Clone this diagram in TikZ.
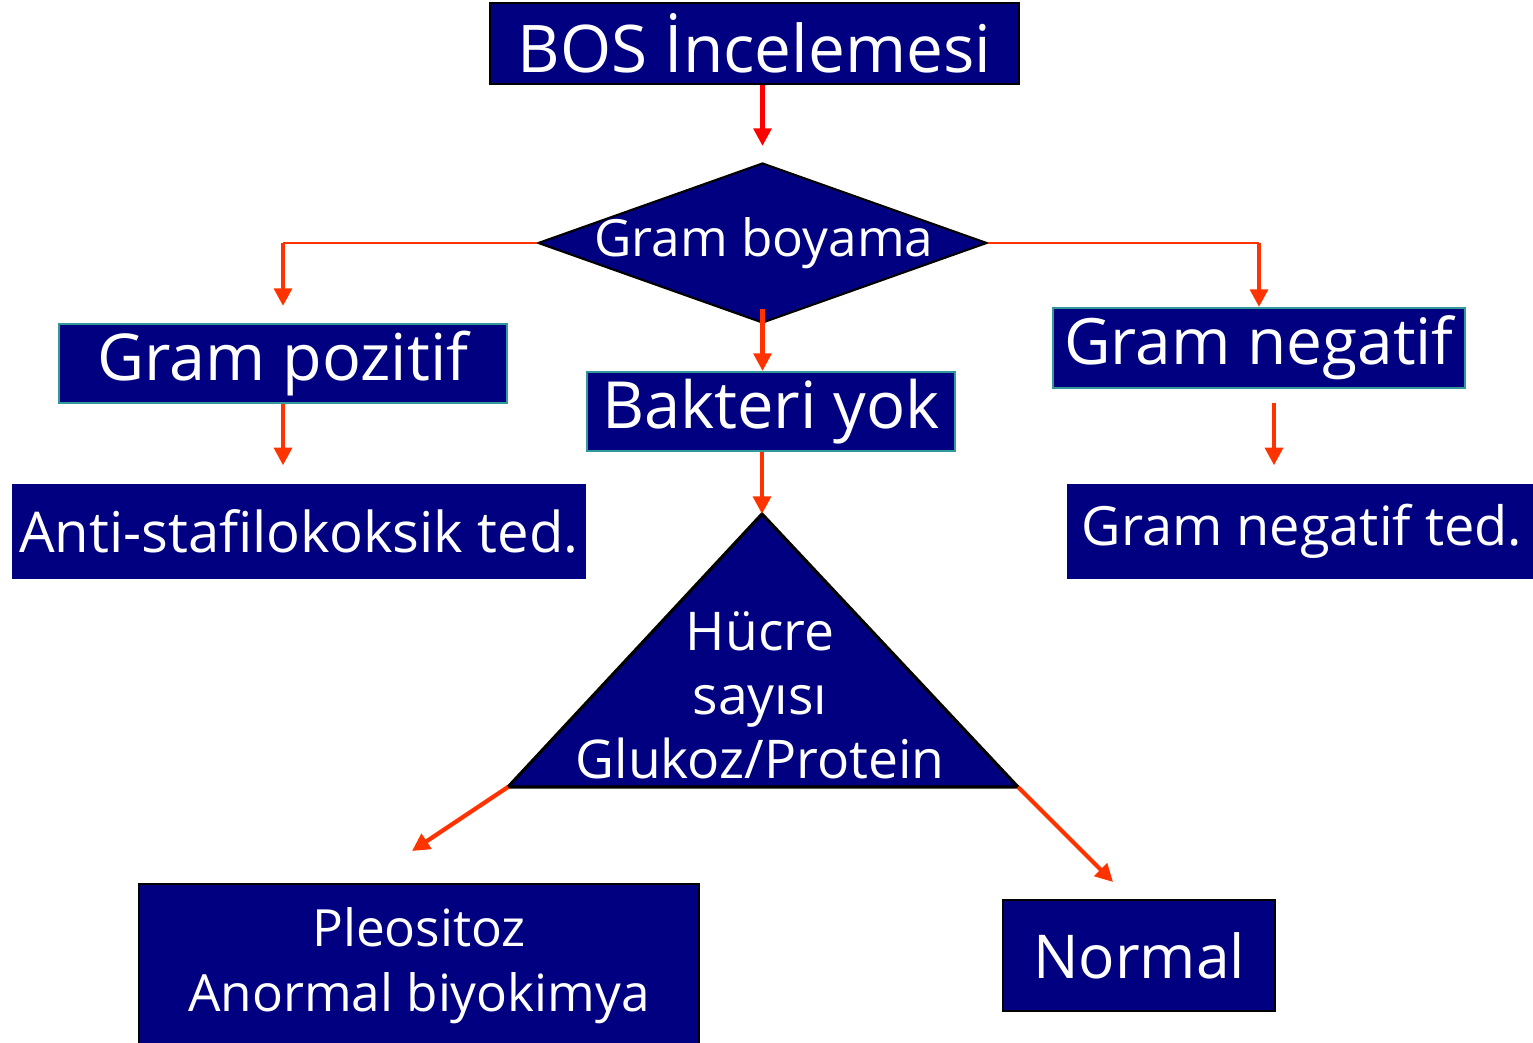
\documentclass[tikz,border=0pt]{standalone}
\usepackage{fontspec}
\setmainfont{Open Sans}
\usetikzlibrary{arrows.meta,shapes.geometric,calc}
\definecolor{navy}{RGB}{0,0,128}
\definecolor{flowred}{RGB}{255,51,0}
\definecolor{edgeteal}{RGB}{51,153,153}
\begin{document}
\begin{tikzpicture}[
    box/.style={rectangle,fill=navy,text=white,inner sep=0pt,align=center},
    flow/.style={draw=flowred,line width=1.2pt,-{Triangle[width=5pt,length=5pt]}},
    branch/.style={draw=flowred,line width=0.6pt}]
    \useasboundingbox (0,0) rectangle (15.33,-10.43);

    \begin{scope}[every node/.style={box}]
        \node (bos) [draw=black,line width=0.8pt,minimum width=5.29cm,minimum height=0.81cm,font=\fontsize{18.7}{23}\selectfont] at (7.545,-0.435) {BOS İncelemesi};
        \node (gram) [diamond,draw=black,line width=0.6pt,minimum width=4.49cm,minimum height=1.6cm] at (7.625,-2.43) {};
        \node [fill=none,font=\fontsize{14.6}{18}\selectfont] at (7.64,-2.43) {Gram boyama};
        \node (gpos) [draw=edgeteal,line width=0.6pt,minimum width=4.48cm,minimum height=0.79cm,font=\fontsize{18.4}{22}\selectfont] at (2.83,-3.635) {Gram pozitif};
        \node (bakteri) [draw=edgeteal,line width=0.6pt,minimum width=3.68cm,minimum height=0.79cm,font=\fontsize{18.5}{22}\selectfont] at (7.71,-4.115) {Bakteri yok};
        \node (gneg) [draw=edgeteal,line width=0.6pt,minimum width=4.12cm,minimum height=0.8cm,font=\fontsize{18.2}{22}\selectfont] at (12.59,-3.48) {Gram negatif};
        \node (anti) [minimum width=5.74cm,minimum height=0.95cm,font=\fontsize{16}{19}\selectfont] at (2.99,-5.315) {Anti-stafilokoksik ted.};
        \node (gnted) [minimum width=4.66cm,minimum height=0.95cm,font=\fontsize{15.4}{19}\selectfont] at (13.0,-5.315) {\hspace{0.04cm}Gram negatif ted.};
        \node (pleo) [draw=black,line width=0.8pt,minimum width=5.6cm,minimum height=1.64cm,font=\fontsize{14.6}{18.4}\selectfont] at (4.19,-9.66) {Pleositoz\\Anormal biyokimya};
        \node (normal) [draw=black,line width=0.8pt,minimum width=2.72cm,minimum height=1.11cm,font=\fontsize{17.2}{21}\selectfont] at (11.39,-9.555) {Normal};
    \end{scope}

    % hucre sayisi ucgeni
    \coordinate (apex) at (7.62,-5.14);
    \coordinate (tl) at (5.08,-7.87);
    \coordinate (tr) at (10.18,-7.87);
    \draw [fill=navy,line width=0.9pt] (apex) -- (tr) -- (tl) -- cycle;
    \node (hucre) [text=white,align=center,font=\fontsize{15.2}{18.2}\selectfont] at (7.6,-6.95) {Hücre\\sayısı\\Glukoz/Protein};

    \coordinate (lturn) at (2.83,-2.43);
    \coordinate (rturn) at (12.59,-2.43);
    \coordinate (gnA) at (12.74,-4.03);
    \coordinate (pleoIn) at (4.12,-8.51);
    \coordinate (normIn) at (11.13,-8.82);

    \begin{scope}
        \path (bos.south -| gram.north) edge [flow,draw=red,shorten >=0.16cm] (gram.north);
        \path (gram.west) edge [branch] (lturn);
        \path (gram.east) edge [branch] (rturn);
        \path (lturn) edge [flow,shorten >=0.17cm] (gpos.north);
        \path (rturn) edge [flow] (gneg.north);
        \path ($(gram.south)+(0,0.15)$) edge [flow] (gram.south |- bakteri.north);
        \path (gpos.south) edge [flow,shorten >=0.18cm] (gpos.south |- anti.north);
        \path (gnA) edge [flow,shorten >=0.18cm] (gnA |- gnted.north);
        \path (apex |- bakteri.south) edge [flow] (apex);
        \path (tl) edge [flow] (pleoIn);
        \path (tr) edge [flow] (normIn);
    \end{scope}
\end{tikzpicture}
\end{document}
